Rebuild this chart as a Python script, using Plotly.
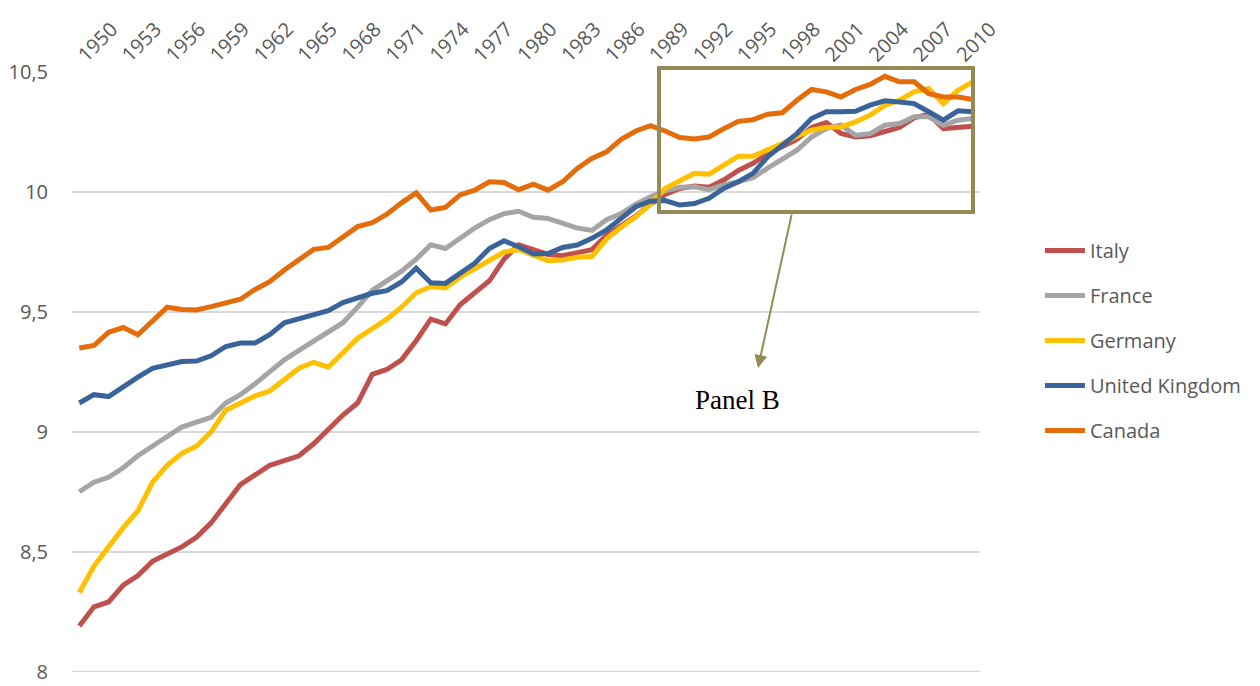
import plotly.graph_objects as go

years = list(range(1950, 2012))

italy = [8.19, 8.27, 8.29, 8.36, 8.40, 8.46, 8.49, 8.52, 8.56, 8.62,
         8.70, 8.78, 8.82, 8.86, 8.88, 8.90, 8.95, 9.01, 9.07, 9.12,
         9.24, 9.26, 9.30, 9.38, 9.47, 9.45, 9.53, 9.58, 9.63, 9.72,
         9.78, 9.76, 9.74, 9.735, 9.75, 9.76, 9.82, 9.86, 9.90, 9.95,
         9.99, 10.015, 10.025, 10.02, 10.05, 10.09, 10.12, 10.16, 10.19, 10.22,
         10.27, 10.29, 10.245, 10.23, 10.235, 10.25, 10.27, 10.31, 10.325, 10.265,
         10.27, 10.275]

france = [8.75, 8.79, 8.81, 8.85, 8.90, 8.94, 8.98, 9.02, 9.04, 9.06,
          9.12, 9.155, 9.20, 9.25, 9.30, 9.34, 9.38, 9.42, 9.455, 9.52,
          9.59, 9.63, 9.67, 9.72, 9.78, 9.765, 9.81, 9.85, 9.885, 9.91,
          9.92, 9.895, 9.89, 9.87, 9.85, 9.84, 9.885, 9.91, 9.95, 9.98,
          10.005, 10.02, 10.022, 10.01, 10.03, 10.043, 10.06, 10.10, 10.14, 10.175,
          10.23, 10.265, 10.28, 10.237, 10.244, 10.279, 10.286, 10.314, 10.314, 10.279,
          10.30, 10.307]

germany = [8.33, 8.44, 8.52, 8.60, 8.67, 8.79, 8.86, 8.91, 8.94, 9.00,
           9.09, 9.12, 9.15, 9.17, 9.22, 9.265, 9.29, 9.27, 9.33, 9.39,
           9.43, 9.47, 9.52, 9.58, 9.605, 9.60, 9.645, 9.68, 9.715, 9.75,
           9.76, 9.737, 9.714, 9.717, 9.728, 9.731, 9.805, 9.853, 9.897, 9.95,
           10.015, 10.047, 10.078, 10.075, 10.113, 10.15, 10.15, 10.175, 10.203, 10.233,
           10.258, 10.27, 10.272, 10.293, 10.321, 10.362, 10.383, 10.418, 10.432, 10.369,
           10.425, 10.46]

uk = [9.12, 9.155, 9.147, 9.19, 9.228, 9.265, 9.28, 9.293, 9.295, 9.317,
      9.356, 9.37, 9.37, 9.405, 9.455, 9.47, 9.485, 9.505, 9.539, 9.557,
      9.578, 9.589, 9.625, 9.682, 9.622, 9.619, 9.658, 9.703, 9.765, 9.797,
      9.772, 9.742, 9.744, 9.769, 9.779, 9.807, 9.842, 9.89, 9.939, 9.962,
      9.965, 9.946, 9.952, 9.974, 10.015, 10.043, 10.078, 10.147, 10.196, 10.244,
      10.307, 10.335, 10.335, 10.337, 10.363, 10.381, 10.376, 10.369, 10.335, 10.30,
      10.339, 10.335]

canada = [9.35, 9.36, 9.415, 9.435, 9.405, 9.465, 9.52, 9.51, 9.508, 9.522,
          9.536, 9.553, 9.594, 9.626, 9.675, 9.717, 9.761, 9.769, 9.814, 9.856,
          9.872, 9.908, 9.955, 9.997, 9.925, 9.936, 9.988, 10.008, 10.043, 10.04,
          10.01, 10.033, 10.008, 10.043, 10.099, 10.14, 10.168, 10.22, 10.255, 10.277,
          10.255, 10.228, 10.222, 10.23, 10.264, 10.295, 10.302, 10.325, 10.331, 10.383,
          10.428, 10.418, 10.397, 10.428, 10.449, 10.483, 10.46, 10.46, 10.411, 10.397,
          10.397, 10.386]

series_names = ["Italy", "France", "Germany", "United Kingdom", "Canada"]
series_values = [italy, france, germany, uk, canada]
series_colors = ["#C0504D", "#A5A5A5", "#FFC000", "#3A6499", "#E46C0A"]

x_tick_years = list(range(1950, 2011, 3))
x_tick_labels = [str(y) for y in x_tick_years]
y_tick_vals = [8, 8.5, 9, 9.5, 10, 10.5]
y_tick_labels = ["8", "8,5", "9", "9,5", "10", "10,5"]

panel_label = "Panel B"
box_color = "#948A54"
grid_color = "#D9D9D9"

fig = go.Figure()
for name, vals, col in zip(series_names, series_values, series_colors):
    fig.add_trace(go.Scatter(
        x=years, y=vals, name=name, mode="lines", legendgroup=name,
        line=dict(color=col, width=5),
    ))

font_main = "Open Sans, Segoe UI, sans-serif"

fig.update_layout(
    width=1252, height=678,
    margin=dict(l=64, r=280, t=64, b=14, autoexpand=False),
    paper_bgcolor="white", plot_bgcolor="white",
    showlegend=True,
    legend=dict(
        x=1.066, y=0.735, xanchor="left", yanchor="top",
        font=dict(family=font_main, size=20, color="#595959"),
        tracegroupgap=16, itemwidth=40, bgcolor="rgba(0,0,0,0)",
    ),
    xaxis=dict(
        range=[1949.5, 2011.5], side="top", tickmode="array",
        tickvals=x_tick_years, ticktext=x_tick_labels, tickangle=-45,
        showgrid=False, zeroline=False, showline=False, ticks="",
        tickfont=dict(family=font_main, size=20, color="#595959"),
        ticklabelstandoff=1, automargin=False,
    ),
    yaxis=dict(
        range=[7.998, 10.501], tickmode="array", tickvals=y_tick_vals,
        ticktext=y_tick_labels, showgrid=True, gridcolor=grid_color,
        gridwidth=1.5, zeroline=False, showline=False, ticks="",
        tickfont=dict(family=font_main, size=20, color="#595959"),
        ticklabelstandoff=23, automargin=False,
    ),
    shapes=[
        dict(type="line", xref="paper", yref="y", x0=0, x1=1,
             y0=y_tick_vals[0], y1=y_tick_vals[0],
             line=dict(color=grid_color, width=1.5), layer="below"),
        dict(type="rect", xref="paper", yref="paper",
             x0=0.6465, x1=0.9923, y0=0.7667, y1=1.0067,
             line=dict(color=box_color, width=4), fillcolor="rgba(0,0,0,0)",
             layer="above"),
    ],
    annotations=[
        dict(xref="paper", yref="paper", x=0.7555, y=0.5067,
             ax=34, ay=-155, axref="pixel", ayref="pixel",
             text="", showarrow=True, arrowhead=2, arrowsize=1.3,
             arrowwidth=2, arrowcolor=box_color),
        dict(xref="paper", yref="paper", x=0.7324, y=0.4533,
             xanchor="center", yanchor="middle",
             text=panel_label, showarrow=False,
             font=dict(family="Liberation Serif, serif", size=27, color="#000000")),
    ],
)

fig.write_html("out.html")
